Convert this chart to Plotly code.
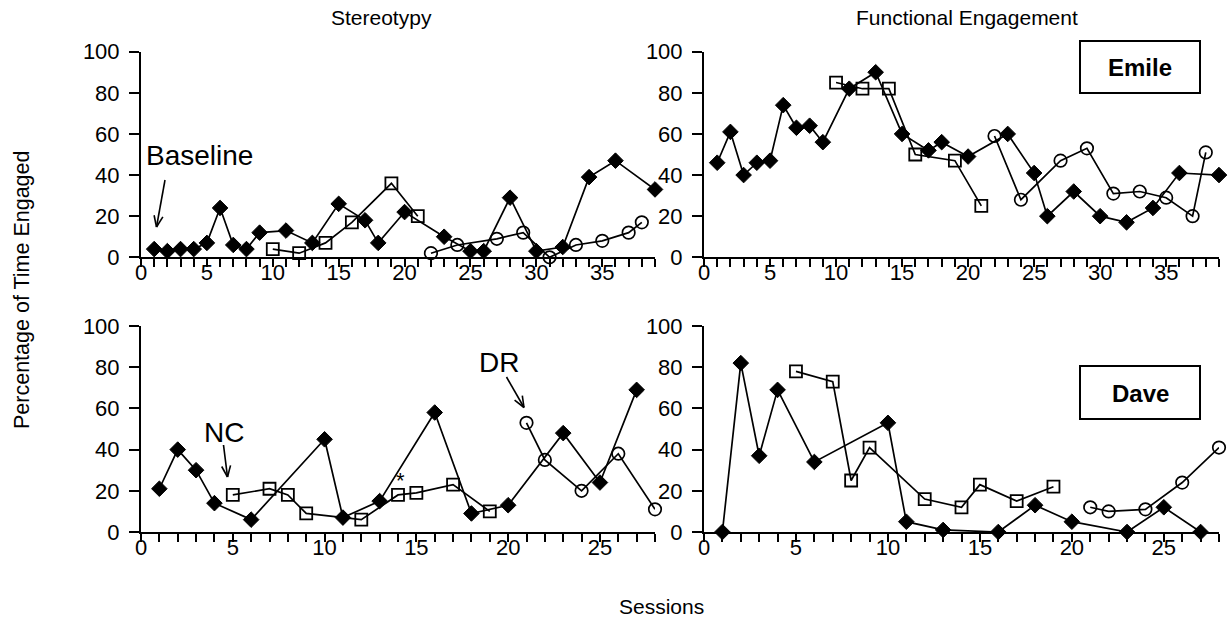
import plotly.graph_objects as go
import math

# ---------------- DATA ----------------
# Emile - Stereotypy
emile_st_base_x = [1, 2, 3, 4, 5, 6, 7, 8, 9, 11, 13, 15, 17, 18, 20, 23, 25, 26, 28, 30, 32, 34, 36, 39]
emile_st_base_y = [4, 3, 4, 4, 7, 24, 6, 4, 12, 13, 7, 26, 18, 7, 22, 10, 3, 3, 29, 3, 5, 39, 47, 33]
emile_st_nc_x = [10, 12, 14, 16, 19, 21]
emile_st_nc_y = [4, 2, 7, 17, 36, 20]
emile_st_dr_x = [22, 24, 27, 29, 31, 33, 35, 37, 38]
emile_st_dr_y = [2, 6, 9, 12, 0, 6, 8, 12, 17]

# Emile - Functional Engagement
emile_fe_base_x = emile_st_base_x
emile_fe_base_y = [46, 61, 40, 46, 47, 74, 63, 64, 56, 82, 90, 60, 52, 56, 49, 60, 41, 20, 32, 20, 17, 24, 41, 40]
emile_fe_nc_x = emile_st_nc_x
emile_fe_nc_y = [85, 82, 82, 50, 47, 25]
emile_fe_dr_x = emile_st_dr_x
emile_fe_dr_y = [59, 28, 47, 53, 31, 32, 29, 20, 51]

# Dave - Stereotypy
dave_st_base_x = [1, 2, 3, 4, 6, 10, 11, 13, 16, 18, 20, 23, 25, 27]
dave_st_base_y = [21, 40, 30, 14, 6, 45, 7, 15, 58, 9, 13, 48, 24, 69]
dave_st_nc_x = [5, 7, 8, 9, 12, 14, 15, 17, 19]
dave_st_nc_y = [18, 21, 18, 9, 6, 18, 19, 23, 10]
dave_st_dr_x = [21, 22, 24, 26, 28]
dave_st_dr_y = [53, 35, 20, 38, 11]

# Dave - Functional Engagement
dave_fe_base_x = dave_st_base_x
dave_fe_base_y = [0, 82, 37, 69, 34, 53, 5, 1, 0, 13, 5, 0, 12, 0]
dave_fe_nc_x = dave_st_nc_x
dave_fe_nc_y = [78, 73, 25, 41, 16, 12, 23, 15, 22]
dave_fe_dr_x = dave_st_dr_x
dave_fe_dr_y = [12, 10, 11, 24, 41]

panel_titles = ["Stereotypy", "Functional Engagement"]
participants = ["Emile", "Dave"]
y_ticks = [0, 20, 40, 60, 80, 100]
emile_sessions_max = 39
dave_sessions_max = 28

# ---------------- LAYOUT HELPERS ----------------
W, H = 1231, 628
FONT = "Arial, Liberation Sans, sans-serif"
TICK_SIZE = 22


def px(x):
    return x / W


def py(y):
    return 1 - y / H


LEFT = (141, 655)
RIGHT = (704, 1219)
TOP = (51.7, 257.3)
BOTTOM = (326, 532)

fig = go.Figure()

panels = [
    ("x", "y", (emile_st_base_x, emile_st_base_y), (emile_st_nc_x, emile_st_nc_y), (emile_st_dr_x, emile_st_dr_y)),
    ("x2", "y2", (emile_fe_base_x, emile_fe_base_y), (emile_fe_nc_x, emile_fe_nc_y), (emile_fe_dr_x, emile_fe_dr_y)),
    ("x3", "y3", (dave_st_base_x, dave_st_base_y), (dave_st_nc_x, dave_st_nc_y), (dave_st_dr_x, dave_st_dr_y)),
    ("x4", "y4", (dave_fe_base_x, dave_fe_base_y), (dave_fe_nc_x, dave_fe_nc_y), (dave_fe_dr_x, dave_fe_dr_y)),
]

LINE = dict(color="black", width=1.7)
for i, (xa, ya, base, nc, dr) in enumerate(panels):
    fig.add_trace(go.Scatter(x=base[0], y=base[1], mode="lines+markers", xaxis=xa, yaxis=ya,
                             line=LINE, cliponaxis=False,
                             marker=dict(symbol="diamond", size=12, color="black",
                                         line=dict(color="black", width=1))))
    fig.add_trace(go.Scatter(x=nc[0], y=nc[1], mode="lines+markers", xaxis=xa, yaxis=ya,
                             line=LINE, cliponaxis=False,
                             marker=dict(symbol="square-open", size=12, color="black",
                                         line=dict(color="black", width=1.8))))
    fig.add_trace(go.Scatter(x=dr[0], y=dr[1], mode="lines+markers", xaxis=xa, yaxis=ya,
                             line=LINE, cliponaxis=False,
                             marker=dict(symbol="circle-open", size=12.5, color="black",
                                         line=dict(color="black", width=1.7))))
    # empty trace so the label-only overlay axis is rendered
    fig.add_trace(go.Scatter(x=[], y=[], mode="markers", xaxis="x%d" % (i + 5), yaxis=ya,
                             showlegend=False, hoverinfo="skip"))


def xaxis_ticks(dom, rng, anchor):
    # axis line + one tick per session (no labels)
    return dict(domain=[px(dom[0]), px(dom[1])], range=rng, anchor=anchor, automargin=False,
                showline=True, linecolor="black", linewidth=2,
                ticks="outside", ticklen=8, tickwidth=2, tickcolor="black",
                tick0=0, dtick=1, showticklabels=False, showgrid=False, zeroline=False,
                fixedrange=True)


def xaxis_labels(base, rng, anchor):
    # labels every 5 sessions on an overlaid axis
    return dict(overlaying=base, range=rng, anchor=anchor, automargin=False,
                showline=False, ticks="", tick0=0, dtick=5, showgrid=False, zeroline=False,
                tickfont=dict(family=FONT, size=TICK_SIZE, color="black"), fixedrange=True)


def yaxis(dom, anchor):
    return dict(domain=[py(dom[1]), py(dom[0])], range=[0, 100], anchor=anchor, automargin=False,
                showline=True, linecolor="black", linewidth=2,
                ticks="outside", ticklen=10, tickwidth=2, tickcolor="black",
                tickvals=y_ticks, showgrid=False, zeroline=False, ticklabelstandoff=5,
                tickfont=dict(family=FONT, size=TICK_SIZE, color="black"),
                fixedrange=True)


fig.update_layout(
    width=W, height=H, autosize=False,
    margin=dict(l=0, r=0, t=0, b=0, pad=0),
    paper_bgcolor="white", plot_bgcolor="rgba(0,0,0,0)",
    showlegend=False,
    font=dict(family=FONT, color="black"),
    xaxis=xaxis_ticks(LEFT, [0, emile_sessions_max], "y"),
    yaxis=yaxis(TOP, "x"),
    xaxis2=xaxis_ticks(RIGHT, [0, emile_sessions_max], "y2"),
    yaxis2=yaxis(TOP, "x2"),
    xaxis3=xaxis_ticks(LEFT, [0, dave_sessions_max], "y3"),
    yaxis3=yaxis(BOTTOM, "x3"),
    xaxis4=xaxis_ticks(RIGHT, [0, dave_sessions_max], "y4"),
    yaxis4=yaxis(BOTTOM, "x4"),
    xaxis5=xaxis_labels("x", [0, emile_sessions_max], "y"),
    xaxis6=xaxis_labels("x2", [0, emile_sessions_max], "y2"),
    xaxis7=xaxis_labels("x3", [0, dave_sessions_max], "y3"),
    xaxis8=xaxis_labels("x4", [0, dave_sessions_max], "y4"),
)

annotations = []


def text(x, y, s, size=20, bold=False, angle=0):
    annotations.append(dict(x=px(x), y=py(y), xref="paper", yref="paper", text=("<b>%s</b>" % s) if bold else s,
                            showarrow=False, xanchor="center", yanchor="middle", textangle=angle,
                            font=dict(family=FONT, size=size, color="black")))


text(381, 17, panel_titles[0], 21)
text(967, 17, panel_titles[1], 21)
text(22, 290, "Percentage of Time Engaged", 21.5, angle=-90)
text(661, 606, "Sessions", 21)
text(199, 155, "Baseline", 28)
text(224, 432, "NC", 28)
text(499, 362, "DR", 28)
text(400, 480, "*", 22)
text(1140, 67, participants[0], 24, bold=True)
text(1140, 393, participants[1], 24, bold=True)

shapes = []
for (y0, y1) in [(41, 93), (366, 419)]:
    shapes.append(dict(type="rect", xref="paper", yref="paper", x0=px(1080), x1=px(1200),
                       y0=py(y1), y1=py(y0), line=dict(color="black", width=2), fillcolor="rgba(0,0,0,0)"))


def arrow(x0, y0, x1, y1, head=12, spread=0.38):
    shapes.append(dict(type="line", xref="paper", yref="paper", x0=px(x0), y0=py(y0), x1=px(x1), y1=py(y1),
                       line=dict(color="black", width=1.6)))
    ang = math.atan2(y1 - y0, x1 - x0)
    for s in (spread, -spread):
        hx = x1 - head * math.cos(ang + s)
        hy = y1 - head * math.sin(ang + s)
        shapes.append(dict(type="line", xref="paper", yref="paper", x0=px(hx), y0=py(hy), x1=px(x1), y1=py(y1),
                           line=dict(color="black", width=1.6)))


arrow(165, 180, 156.5, 227)
arrow(223.5, 445, 227.5, 477)
arrow(506.5, 377, 524, 407.5)

fig.update_layout(annotations=annotations, shapes=shapes)

post = (
    "document.documentElement.style.margin='0px';"
    "document.documentElement.style.overflow='hidden';"
    "document.body.style.margin='0px';"
    "document.body.style.padding='0px';"
    "document.body.style.overflow='hidden';"
    "var gd=document.getElementById('{plot_id}');"
    "gd.style.position='fixed';gd.style.left='0px';gd.style.top='0px';"
    "gd.style.margin='0px';"
)
fig.write_html("out.html", config={"displayModeBar": False, "responsive": False}, post_script=post)
